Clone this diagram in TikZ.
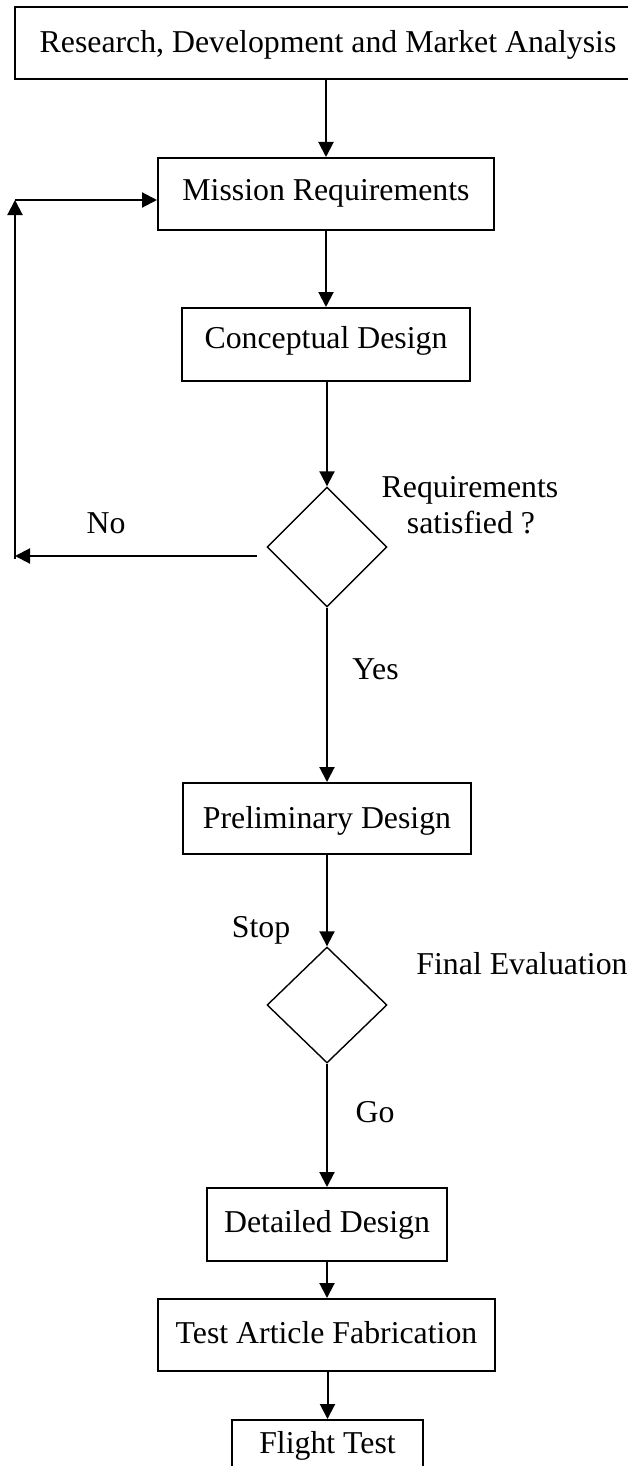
\documentclass[tikz,border=0pt]{standalone}
\usepackage{fontspec}
\setmainfont{Liberation Serif}
\usetikzlibrary{arrows.meta,shapes.geometric}
\begin{document}
\begin{tikzpicture}[x=1pt,y=-1pt,
  txt/.style={font=\fontsize{31.8pt}{36pt}\selectfont},
  lbl/.style={txt, inner sep=0pt, anchor=base},
  box/.style={txt, draw, line width=2pt, text height=24pt, text depth=5pt,
              minimum height=72pt, inner sep=0pt},
  dia/.style={draw, diamond, line width=1.4pt, inner sep=0pt, minimum width=120pt},
  arr/.style={line width=2pt, -{Triangle[length=15pt,width=15pt]}}]
\useasboundingbox (0,0) rectangle (628,1466);
\fill[white] (0,0) rectangle (628,1466);

\node[box, minimum width=626pt] (b1) at (328,43) {Research, Development and Market Analysis};
\node[box, minimum width=336pt] (b2) at (326,194) {\raisebox{3pt}{Mission Requirements}};
\node[box, minimum width=288pt, minimum height=73pt] (b3) at (326,344.5) {\raisebox{6pt}{Conceptual Design}};
\node[dia, minimum height=120pt] (d1) at (327,547) {};
\node[box, minimum width=288pt, minimum height=71pt] (b4) at (327,818.5) {Preliminary Design};
\node[dia, minimum height=116pt] (d2) at (327,1005) {};
\node[box, minimum width=240pt, minimum height=73pt] (b5) at (327,1224.5) {\raisebox{2pt}{Detailed Design}};
\node[box, minimum width=337pt] (b6) at (326.5,1335) {\raisebox{1pt}{Test Article Fabrication}};
\node[box, minimum width=191pt, minimum height=49pt] (b7) at (327.5,1444.5) {\raisebox{1pt}{Flight Test}};

\node[lbl] (no) at (106,533) {No};
\node[lbl] (req) at (470,497) {Requirements};
\node[lbl] (sat) at (471,533) {satisfied ?};
\node[lbl] (yes) at (375.5,679) {Yes};
\node[lbl] (stop) at (261,937) {Stop};
\node[lbl] (fin) at (522,974) {Final Evaluation};
\node[lbl] (go) at (375,1122) {Go};

\coordinate (nostart) at (257,556);
\coordinate (fbbot) at (15,559);
\coordinate (fbtop) at (15,200);

\draw[arr] (b1.south -| b2.north) -- (b2.north);
\draw[arr] (b2.south) -- (b3.north -| b2.south);
\draw[arr] (b3.south -| d1.north) -- (d1.north);
\draw[arr] (d1.south) -- (b4.north);
\draw[arr] (b4.south) -- (d2.north);
\draw[arr] (d2.south) -- (b5.north);
\draw[arr] (b5.south) -- (b6.north -| b5.south);
\draw[arr] (b6.south -| b7.north) -- (b7.north);

\draw[arr] (nostart) -- (nostart -| fbbot);
\draw[arr] (fbbot) -- (fbtop);
\draw[arr] (fbtop) -- (fbtop -| b2.west);
\end{tikzpicture}
\end{document}
